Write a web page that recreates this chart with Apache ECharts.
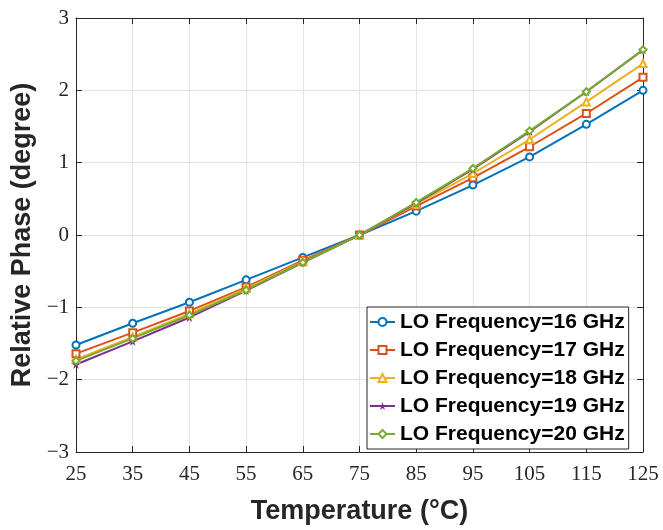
<!DOCTYPE html>
<html>
<head>
<meta charset="utf-8">
<script src="https://cdn.jsdelivr.net/npm/echarts@6/dist/echarts.min.js"></script>
<style>html,body{margin:0;padding:0;background:#fff}#c{width:663px;height:530px}</style>
</head>
<body>
<div id="c"></div>
<script>
const temps = ['25','35','45','55','65','75','85','95','105','115','125'];
const f16 = [-1.52,-1.22,-0.93,-0.62,-0.31,0,0.33,0.69,1.08,1.53,2.00];
const f17 = [-1.64,-1.35,-1.05,-0.72,-0.35,0,0.40,0.79,1.22,1.68,2.18];
const f18 = [-1.72,-1.41,-1.09,-0.74,-0.37,0,0.43,0.85,1.32,1.84,2.37];
const f19 = [-1.79,-1.47,-1.14,-0.77,-0.38,0,0.44,0.91,1.43,1.98,2.56];
const f20 = [-1.74,-1.43,-1.11,-0.76,-0.38,0,0.45,0.92,1.44,1.98,2.56];
const names = ['LO Frequency=16 GHz','LO Frequency=17 GHz','LO Frequency=18 GHz','LO Frequency=19 GHz','LO Frequency=20 GHz'];
const colors = ['#0072BD','#D95319','#EDB120','#7E2F8E','#77AC30'];
const star = 'path://M50,0 L61,35 L98,35 L68,57 L79,92 L50,70 L21,92 L32,57 L2,35 L39,35 Z';
const symbols = ['emptyCircle','emptyRect','emptyTriangle',star,'emptyDiamond'];
const allData = [f16,f17,f18,f19,f20];

const tickFont = {fontFamily:'Liberation Serif', fontSize:21, color:'#262626'};
const chart = echarts.init(document.getElementById('c'));
chart.setOption({
  animation:false,
  backgroundColor:'#fff',
  color:colors,
  grid:{left:76,right:20,top:18,bottom:74,containLabel:false},
  legend:{
    orient:'vertical', left:367, top:307,
    width:268,
    backgroundColor:'#fff', borderColor:'#262626', borderWidth:1,
    padding:[4,4,4,2],
    itemWidth:25, itemHeight:10, itemGap:6,
    textStyle:{fontFamily:'Liberation Sans', fontWeight:'bold', fontSize:21, color:'#000', lineHeight:22},
    data:names
  },
  xAxis:[{
    type:'category', data:temps, boundaryGap:false,
    name:'Temperature (°C)', nameLocation:'middle', nameGap:46,
    nameTextStyle:{fontFamily:'Liberation Sans', fontWeight:'bold', fontSize:27, color:'#262626'},
    axisLine:{onZero:false, lineStyle:{color:'#262626',width:1}},
    axisTick:{inside:true, length:6, lineStyle:{color:'#262626'}},
    axisLabel:Object.assign({margin:12},tickFont),
    splitLine:{show:true, lineStyle:{color:'#e3e3e3',width:1}}
  },{
    type:'category', data:temps, boundaryGap:false, position:'top',
    axisLine:{show:true,onZero:false,lineStyle:{color:'#262626',width:1}},
    axisTick:{show:true,inside:true,length:6,lineStyle:{color:'#262626'}},
    axisLabel:{show:false}, splitLine:{show:false}
  }],
  yAxis:[{
    type:'value', min:-3, max:3, interval:1,
    name:'Relative Phase (degree)', nameLocation:'middle', nameGap:34,
    nameTextStyle:{fontFamily:'Liberation Sans', fontWeight:'bold', fontSize:27, color:'#262626'},
    axisLine:{show:true,onZero:false,lineStyle:{color:'#262626',width:1}},
    axisTick:{show:true,inside:true,length:6,lineStyle:{color:'#262626'}},
    axisLabel:Object.assign({margin:7, formatter:v=>String(v).replace('-','\u2212')},tickFont),
    splitLine:{show:true, lineStyle:{color:'#e3e3e3',width:1}}
  },{
    type:'value', min:-3, max:3, interval:1, position:'right',
    axisLine:{show:true,onZero:false,lineStyle:{color:'#262626',width:1}},
    axisTick:{show:true,inside:true,length:6,lineStyle:{color:'#262626'}},
    axisLabel:{show:false}, splitLine:{show:false}
  }],
  series: allData.map((d,i)=>({
    name:names[i], type:'line', data:d,
    symbol:symbols[i], symbolSize: i===3 ? 9 : 7,
    showAllSymbol:true,
    lineStyle:{width:2, color:colors[i]},
    itemStyle:{color:colors[i], borderWidth:1.5}
  }))
});
</script>
</body>
</html>
